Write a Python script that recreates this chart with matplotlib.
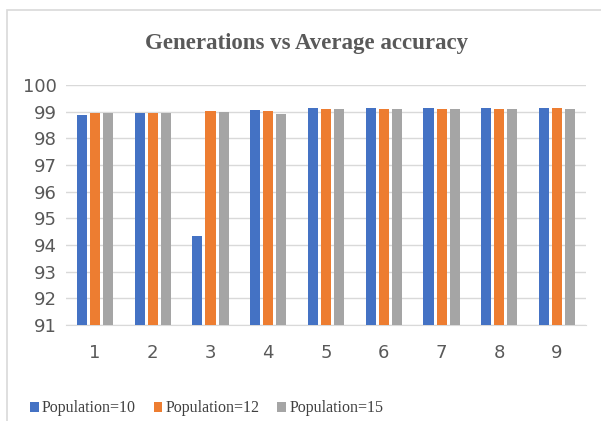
import numpy as np
import matplotlib.pyplot as plt
from matplotlib.patches import Rectangle

generations = ["1", "2", "3", "4", "5", "6", "7", "8", "9"]
pop10 = [98.86, 98.95, 94.33, 99.08, 99.15, 99.15, 99.15, 99.15, 99.15]
pop12 = [98.97, 98.97, 99.02, 99.03, 99.12, 99.12, 99.12, 99.12, 99.13]
pop15 = [98.97, 98.96, 98.98, 98.92, 99.10, 99.10, 99.12, 99.12, 99.12]
series_names = ["Population=10", "Population=12", "Population=15"]
colors = ["#4472C4", "#ED7D31", "#A5A5A5"]

fig = plt.figure(figsize=(6.01, 4.21), dpi=100)
ax = fig.add_axes([0.11, 0.228, 0.865, 0.57])

x = np.arange(len(generations))
step = 0.226
width = 0.174
for i, (vals, name, c) in enumerate(zip([pop10, pop12, pop15], series_names, colors)):
    ax.bar(x + (i - 1) * step, np.array(vals) - 91, width, bottom=91, color=c, label=name, zorder=3)

ax.set_ylim(91, 100)
ax.set_xlim(-0.5, len(generations) - 0.5)
ax.set_yticks(range(91, 101))
ax.set_xticks(x)
ax.set_xticklabels(generations)
ax.grid(axis="y", color="#D9D9D9", linewidth=1, zorder=0)
for s in ["top", "right", "left"]:
    ax.spines[s].set_visible(False)
ax.spines["bottom"].set_color("#D9D9D9")
ax.tick_params(length=0, labelsize=13, labelcolor="#595959")
ax.tick_params(axis="y", pad=7)
ax.tick_params(axis="x", pad=14)

fig.text(0.51, 0.897, "Generations vs Average accuracy", ha="center", va="center",
         fontsize=16.5, fontweight="bold", color="#595959", family="Liberation Serif")

fig.legend(loc="center left", bbox_to_anchor=(0.05, 0.03), ncol=3, frameon=False,
           borderaxespad=0, borderpad=0,
           prop={"family": "Liberation Serif", "size": 11.5}, labelcolor="#404040",
           handlelength=0.55, handleheight=0.55, handletextpad=0.2, columnspacing=1.1)

fig.patches.append(Rectangle((0.012, -0.1), 1.2, 1.076, transform=fig.transFigure,
                             fill=False, edgecolor="#D9D9D9", linewidth=1.2))

fig.savefig("out.png", dpi=100)
